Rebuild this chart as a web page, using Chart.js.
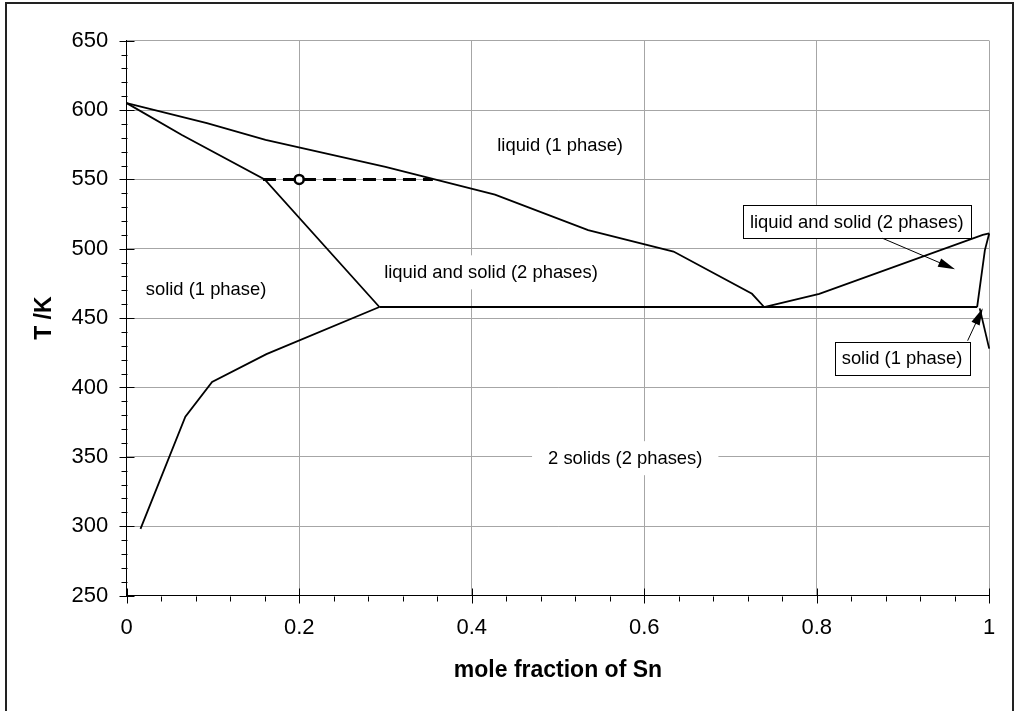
<!DOCTYPE html>
<html lang="en">
<head>
<meta charset="UTF-8">
<title>Pb-Sn phase diagram</title>
<script src="https://cdn.jsdelivr.net/npm/chart.js"></script>
<style>
  html, body { margin: 0; padding: 0; background: #fff; overflow: hidden; }
  #wrap { position: relative; width: 1016px; height: 711px; }
  #frame { position: absolute; left: 5px; top: 2px; width: 1009px; height: 730px; border: 2px solid #222; box-sizing: border-box; }
  canvas { position: absolute; left: 0; top: 0; }
</style>
</head>
<body>
<div id="wrap">
  <div id="frame"></div>
  <canvas id="phaseChart" width="1016" height="711"></canvas>
</div>
<script>
// phase boundaries, x = mole fraction of Sn, T in K
const liqLeftX  = [0, 0.093, 0.161, 0.30, 0.427, 0.535, 0.634, 0.725, 0.739];
const liqLeftT  = [605, 590.5, 578.5, 559, 539, 513.5, 498, 467.5, 458];
const solLeftX  = [0, 0.064, 0.160, 0.293];
const solLeftT  = [605, 582, 550, 458];
const solvLeftX = [0.293, 0.162, 0.099, 0.068, 0.016];
const solvLeftT = [458, 424, 404, 379, 298];
const eutX      = [0.293, 0.986];
const eutT      = [458, 458];
const liqRightX = [0.739, 0.803, 0.9925, 1.0];
const liqRightT = [458, 467.5, 510, 511];
const solRightX = [1.0, 0.995, 0.986];
const solRightT = [511, 499, 458];
const solvRightX = [0.989, 1.0];
const solvRightT = [457, 428];
// tie line and state point
const tieX   = [0.158, 0.355];
const tieT   = [550, 550];
const stateX = [0.2];
const stateT = [550];

const xTicks = [0, 0.2, 0.4, 0.6, 0.8, 1];
const yTicks = [250, 300, 350, 400, 450, 500, 550, 600, 650];
const xMinorStep = 0.04;
const yMinorStep = 10;

// text in the diagram
const regionLabels = [
  { text: 'liquid (1 phase)', x: 0.5025, T: 575, pad: 6 },
  { text: 'solid (1 phase)', x: 0.092, T: 471, pad: 6 },
  { text: 'liquid and solid (2 phases)', x: 0.4224, T: 483, pad: 6 },
  { text: '2 solids (2 phases)', x: 0.578, T: 349, pad: 16 }
];
const boxLabels = [
  { text: 'liquid and solid (2 phases)', x: 0.8464, T: 519.6, fromX: 0.8765, fromT: 507.5, toX: 0.9604, toT: 485.2 },
  { text: 'solid (1 phase)', x: 0.8989, T: 421, fromX: 0.975, fromT: 433.7, toX: 0.9925, toT: 457.1 }
];

Chart.defaults.font.family = "'Liberation Sans', Arial, sans-serif";
Chart.defaults.color = '#000';
const labelFont = "18.4px 'Liberation Sans', Arial, sans-serif";

function pts(xs, ts) {
  return xs.map((v, i) => ({ x: v, y: ts[i] }));
}
function boundary(xs, ts) {
  return { data: pts(xs, ts), showLine: true, borderColor: '#000', borderWidth: 1.8,
           pointRadius: 0, fill: false, tension: 0, clip: false };
}

function arrow(ctx, x1, y1, x2, y2) {
  const a = Math.atan2(y2 - y1, x2 - x1);
  const len = 17, hw = 4.5;
  ctx.beginPath();
  ctx.moveTo(x1, y1);
  ctx.lineTo(x2 - len * 0.8 * Math.cos(a), y2 - len * 0.8 * Math.sin(a));
  ctx.stroke();
  ctx.beginPath();
  ctx.moveTo(x2, y2);
  ctx.lineTo(x2 - len * Math.cos(a) + hw * Math.sin(a), y2 - len * Math.sin(a) - hw * Math.cos(a));
  ctx.lineTo(x2 - len * Math.cos(a) - hw * Math.sin(a), y2 - len * Math.sin(a) + hw * Math.cos(a));
  ctx.closePath();
  ctx.fill();
}

const annotate = {
  id: 'annotate',
  beforeDatasetsDraw(chart) {
    const { ctx, scales: { x, y } } = chart;
    ctx.save();
    ctx.font = labelFont;
    ctx.textAlign = 'center';
    ctx.textBaseline = 'middle';
    regionLabels.forEach(l => {
      const cx = x.getPixelForValue(l.x), cy = y.getPixelForValue(l.T);
      const w = ctx.measureText(l.text).width + 2 * l.pad;
      ctx.fillStyle = '#fff';
      ctx.fillRect(cx - w / 2, cy - 17, w, 34);
      ctx.fillStyle = '#000';
      ctx.fillText(l.text, cx, cy + 1);
    });
    ctx.restore();
  },
  afterDatasetsDraw(chart) {
    const { ctx, scales: { x, y } } = chart;
    ctx.save();
    ctx.font = labelFont;
    ctx.textAlign = 'center';
    ctx.textBaseline = 'middle';
    ctx.lineWidth = 1;
    ctx.strokeStyle = '#000';
    boxLabels.forEach(b => {
      const cx = x.getPixelForValue(b.x), cy = y.getPixelForValue(b.T);
      const w = Math.round(ctx.measureText(b.text).width + 14), h = 33;
      const bx = Math.round(cx - w / 2) + 0.5, by = Math.round(cy - h / 2) + 0.5;
      ctx.fillStyle = '#fff';
      ctx.fillRect(bx, by, w, h);
      ctx.strokeRect(bx, by, w, h);
      ctx.fillStyle = '#000';
      ctx.fillText(b.text, cx, cy + 1);
      arrow(ctx, x.getPixelForValue(b.fromX), y.getPixelForValue(b.fromT),
                 x.getPixelForValue(b.toX), y.getPixelForValue(b.toT));
    });
    ctx.restore();
  },
  afterDraw(chart) {
    // major ticks crossing the axes, minor ticks outside
    const { ctx, scales: { x, y }, chartArea } = chart;
    const left = Math.round(chartArea.left) + 0.5;
    const bottom = Math.round(chartArea.bottom) + 0.5;
    ctx.save();
    ctx.strokeStyle = '#000';
    ctx.lineWidth = 1;
    ctx.beginPath();
    for (let v = yTicks[0]; v <= yTicks[yTicks.length - 1]; v += yMinorStep) {
      const p = Math.round(y.getPixelForValue(v)) + 0.5;
      const major = yTicks.includes(v);
      ctx.moveTo(left - (major ? 8 : 6), p);
      ctx.lineTo(major ? left + 7 : left, p);
    }
    const n = Math.round((xTicks[xTicks.length - 1] - xTicks[0]) / xMinorStep);
    for (let i = 0; i <= n; i++) {
      const v = xTicks[0] + i * xMinorStep;
      const p = Math.round(x.getPixelForValue(v)) + 0.5;
      const major = i % 5 === 0;
      ctx.moveTo(p, major ? bottom - 8 : bottom);
      ctx.lineTo(p, bottom + (major ? 7 : 5));
    }
    ctx.stroke();
    ctx.restore();
  }
};

const ctx = document.getElementById('phaseChart');

new Chart(ctx, {
  type: 'scatter',
  data: {
    datasets: [
      { data: pts(stateX, stateT), pointRadius: 4.5, pointBorderWidth: 2.5,
        pointBackgroundColor: '#fff', pointBorderColor: '#000', showLine: false },
      Object.assign(boundary(tieX, tieT), { borderWidth: 3, borderDash: [13, 7] }),
      boundary(liqLeftX, liqLeftT),
      boundary(solLeftX, solLeftT),
      boundary(solvLeftX, solvLeftT),
      boundary(eutX, eutT),
      boundary(liqRightX, liqRightT),
      boundary(solRightX, solRightT),
      boundary(solvRightX, solvRightT)
    ]
  },
  options: {
    responsive: false,
    animation: false,
    devicePixelRatio: 1,
    layout: { padding: { left: 0, top: 40.7, right: 26.8, bottom: 0 } },
    plugins: { legend: { display: false }, tooltip: { enabled: false } },
    scales: {
      x: {
        type: 'linear',
        min: 0, max: 1,
        afterFit: s => { s.height = 115.5; },
        afterBuildTicks: s => { s.ticks = xTicks.map(v => ({ value: v })); },
        grid: { color: '#a6a6a6', lineWidth: 1, drawTicks: false },
        border: { color: '#000', width: 1 },
        ticks: {
          autoSkip: false, maxRotation: 0, padding: 19.6,
          font: { size: 22 },
          callback: v => String(+v.toFixed(2))
        },
        title: { display: true, text: 'mole fraction of Sn',
                 font: { size: 23, weight: 'bold' }, padding: { top: 0, bottom: 26.5 } }
      },
      y: {
        type: 'linear',
        min: 250, max: 650,
        afterFit: s => { s.width = 126.7; },
        afterBuildTicks: s => { s.ticks = yTicks.map(v => ({ value: v })); },
        grid: { color: '#a6a6a6', lineWidth: 1, drawTicks: false },
        border: { color: '#000', width: 1 },
        ticks: { autoSkip: false, padding: 18.4, font: { size: 22 } },
        title: { display: true, text: 'T /K',
                 font: { size: 23, weight: 'bold' }, padding: { top: 31.2, bottom: 0 } }
      }
    }
  },
  plugins: [annotate]
});
</script>
</body>
</html>
